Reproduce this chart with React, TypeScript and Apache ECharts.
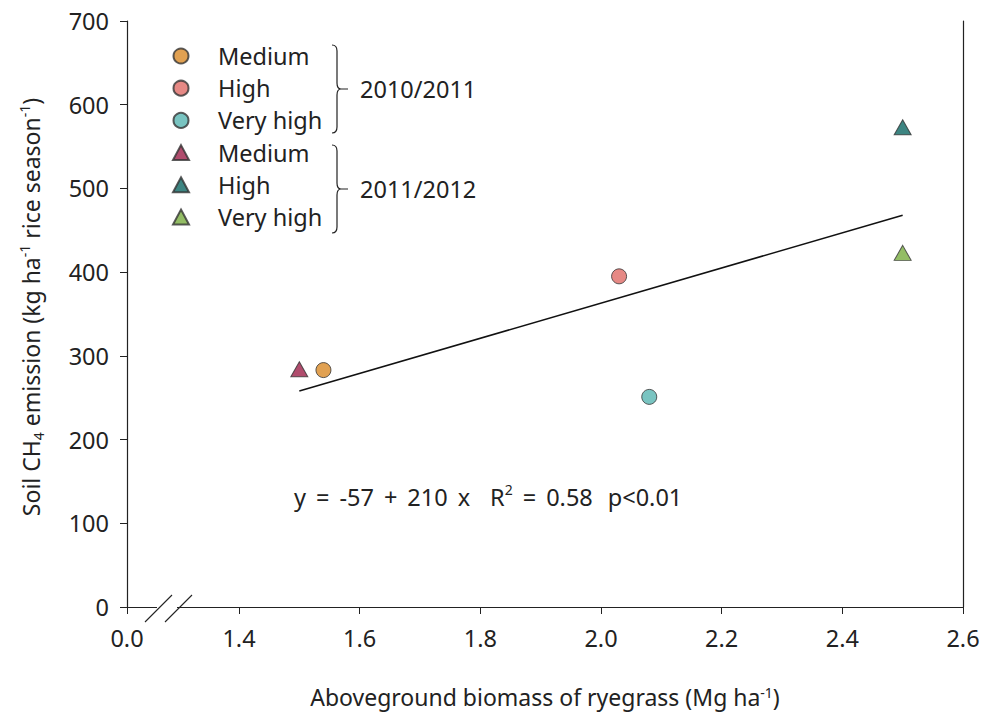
import React, { useEffect, useRef } from "react";
import * as echarts from "echarts";

// ---- data ----
const seriesNames = [
  "Medium 2010/2011",
  "High 2010/2011",
  "Very high 2010/2011",
  "Medium 2011/2012",
  "High 2011/2012",
  "Very high 2011/2012",
];
const biomass = [1.54, 2.03, 2.08, 1.5, 2.5, 2.5];
const emission = [283, 395, 251, 284, 573, 423];
const symbols = ["circle", "circle", "circle", "triangle", "triangle", "triangle"];
const colors = ["#D98A27", "#E06C66", "#58B5B1", "#9C1F49", "#0D6663", "#78AC3E"];

const fitX = [1.5, 2.5];
const fitY = [258, 468];

const xBreakValue = 1.2144; // position of the "0.0" label (broken axis)
const xTickValues = [xBreakValue, 1.4, 1.6, 1.8, 2.0, 2.2, 2.4, 2.6];
const xTickLabels = ["0.0", "1.4", "1.6", "1.8", "2.0", "2.2", "2.4", "2.6"];
const yMin = 0;
const yMax = 700;
const yStep = 100;
const groupLabels = ["2010/2011", "2011/2012"];

const FONT = "Noto Sans";
const TXT = "#222";
const FS = 23.5;

function App() {
  const ref = useRef<HTMLDivElement>(null);
  useEffect(() => {
    if (!ref.current) return;
    echarts.graphic.registerShape(
      "brace",
      echarts.graphic.extendPath(
        "M0,0 Q5,0 5,6 L5,38 Q5,44 9,44 Q5,44 5,50 L5,82 Q5,88 0,88 M9,44 L16,44",
        {}
      )
    );
    const chart = echarts.init(ref.current, null, { renderer: "svg" });
    const supRich = {
      sup: { fontSize: 14, lineHeight: 14, verticalAlign: "top", fontFamily: FONT, color: TXT },
      sub: { fontSize: 14, lineHeight: 14, verticalAlign: "bottom", fontFamily: FONT, color: TXT },
    };
    const scatterSeries = seriesNames.map((name, i) => ({
      name,
      type: "scatter",
      symbol: symbols[i],
      symbolSize: symbols[i] === "circle" ? 15 : [17, 15],
      itemStyle: { color: colors[i], borderColor: "#333", borderWidth: 1 },
      data: [[biomass[i], emission[i]]],
      z: 3,
    }));
    const eqBase = { fontSize: FS, fontFamily: FONT, fill: TXT, lineHeight: 30 };
    const option: any = {
      animation: false,
      backgroundColor: "#fff",
      textStyle: { fontFamily: FONT, color: TXT },
      grid: { left: 127, top: 21, width: 836, height: 586, containLabel: false },
      legend: {
        orient: "vertical",
        left: 167,
        top: 39,
        itemWidth: 16,
        itemHeight: 15,
        itemGap: 8.2,
        data: seriesNames,
        formatter: (n: string) => n.replace(/ \d{4}\/\d{4}$/, ""),
        textStyle: { fontSize: FS, lineHeight: 20, color: TXT, fontFamily: FONT, padding: [0, 0, 0, 24] },
        selectedMode: false,
      },
      xAxis: [
        {
          type: "value",
          min: xBreakValue,
          max: 2.6,
          position: "bottom",
          axisLine: { show: true, lineStyle: { color: "#222", width: 1.2 } },
          axisTick: { show: true, length: 7, customValues: xTickValues, lineStyle: { color: "#222" } },
          axisLabel: {
            customValues: xTickValues,
            formatter: (v: number) => {
              const idx = xTickValues.findIndex((t) => Math.abs(t - v) < 1e-6);
              return idx >= 0 ? xTickLabels[idx] : "";
            },
            fontSize: FS,
            color: TXT,
            fontFamily: FONT,
            margin: 19,
          },
          splitLine: { show: false },
          name: "Aboveground biomass of ryegrass (Mg ha{sup|-1})",
          nameLocation: "middle",
          nameGap: 78,
          nameTextStyle: { fontSize: 23, color: TXT, fontFamily: FONT, rich: supRich },
        },
        {
          type: "value",
          min: xBreakValue,
          max: 2.6,
          position: "top",
          axisLine: { show: true, lineStyle: { color: "#222", width: 1.2 } },
          axisTick: { show: false },
          axisLabel: { show: false },
          splitLine: { show: false },
        },
      ],
      yAxis: [
        {
          type: "value",
          min: yMin,
          max: yMax,
          interval: yStep,
          axisLine: { show: true, lineStyle: { color: "#222", width: 1.2 } },
          axisTick: { show: true, length: 7, lineStyle: { color: "#222" } },
          axisLabel: { fontSize: FS, color: TXT, fontFamily: FONT, margin: 18 },
          splitLine: { show: false },
          name: "Soil CH{sub|4} emission (kg ha{sup|-1} rice season{sup|-1})",
          nameLocation: "middle",
          nameGap: 82,
          nameTextStyle: {
            fontSize: 23,
            color: TXT,
            fontFamily: FONT,
            lineHeight: 28,
            padding: [0, 0, 0, 14],
            rich: supRich,
          },
        },
        {
          type: "value",
          min: yMin,
          max: yMax,
          position: "right",
          axisLine: { show: true, lineStyle: { color: "#222", width: 1.2 } },
          axisTick: { show: false },
          axisLabel: { show: false },
          splitLine: { show: false },
        },
      ],
      series: [
        {
          name: "fit",
          type: "line",
          data: fitX.map((x, i) => [x, fitY[i]]),
          symbol: "none",
          lineStyle: { color: "#111", width: 1.5 },
          z: 2,
        },
        ...scatterSeries,
      ],
      graphic: [
        { type: "rect", shape: { x: 157, y: 603, width: 20, height: 8 }, style: { fill: "#fff" }, z: 100 },
        { type: "line", shape: { x1: 145, y1: 622, x2: 172, y2: 595 }, style: { stroke: "#222", lineWidth: 1.1 }, z: 101 },
        { type: "line", shape: { x1: 165, y1: 622, x2: 192, y2: 595 }, style: { stroke: "#222", lineWidth: 1.1 }, z: 101 },
        { type: "brace", x: 332, y: 45, style: { stroke: "#222", fill: null, lineWidth: 1.2 }, z: 100 },
        { type: "brace", x: 332, y: 145, style: { stroke: "#222", fill: null, lineWidth: 1.2 }, z: 100 },
        {
          type: "text",
          x: 360,
          y: 89,
          style: { text: groupLabels[0], fontSize: FS, fontFamily: FONT, fill: TXT, verticalAlign: "middle" },
          z: 100,
        },
        {
          type: "text",
          x: 360,
          y: 189,
          style: { text: groupLabels[1], fontSize: FS, fontFamily: FONT, fill: TXT, verticalAlign: "middle" },
          z: 100,
        },
        {
          type: "text",
          x: 294,
          y: 497,
          style: {
            text:
              "y{g| }={g| }-57{g| }+{g| }210{g| }x{g2| }R{sup|2}{g| }={g| }0.58{g3| }p<0.01",
            ...eqBase,
            verticalAlign: "middle",
            rich: {
              sup: { fontSize: 14, lineHeight: 14, verticalAlign: "top", fontFamily: FONT, fill: TXT },
              g: { ...eqBase, width: 10 },
              g2: { ...eqBase, width: 20 },
              g3: { ...eqBase, width: 15 },
            },
          },
          z: 100,
        },
      ],
    };
    chart.setOption(option);
    return () => chart.dispose();
  }, []);
  return (
    <div
      ref={ref}
      style={{ position: "fixed", left: 0, top: 0, width: 997, height: 713, background: "#fff" }}
    />
  );
}

export default App;
